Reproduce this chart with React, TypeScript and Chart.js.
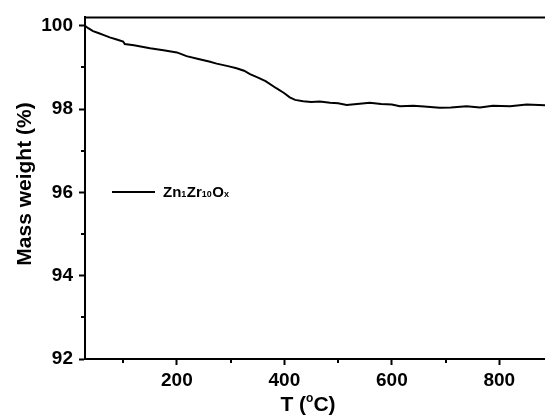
import React, { useEffect, useRef } from "react";
import { Chart, registerables } from "chart.js";

Chart.register(...registerables);

const temperatures = [29, 35, 44, 55, 63, 75, 88, 100, 103, 120, 150, 175, 200, 218, 240, 260, 274, 295, 311, 325, 336, 350, 365, 385, 400, 410, 420, 435, 450, 466, 485, 500, 516, 540, 559, 580, 600, 615, 640, 660, 689, 710, 739, 764, 788, 820, 851, 885];
const massWeight = [100.0, 99.94, 99.87, 99.82, 99.78, 99.72, 99.67, 99.62, 99.56, 99.53, 99.46, 99.41, 99.36, 99.27, 99.2, 99.14, 99.09, 99.03, 98.98, 98.92, 98.84, 98.76, 98.67, 98.5, 98.38, 98.28, 98.22, 98.19, 98.17, 98.18, 98.15, 98.14, 98.1, 98.13, 98.15, 98.12, 98.11, 98.07, 98.08, 98.06, 98.03, 98.04, 98.07, 98.04, 98.08, 98.07, 98.11, 98.09];

const xMajorTicks = [200, 400, 600, 800];
const xMinorTicks = [100, 300, 500, 700];
const yMajorTicks = [92, 94, 96, 98, 100];
const yMinorTicks = [93, 95, 97, 99];

const FONT = "'Liberation Sans', Arial, sans-serif";

const decorPlugin = {
  id: "decor",
  afterDraw(chart: any) {
    const ctx = chart.ctx;
    const { left, top, right, bottom } = chart.chartArea;
    const xs = chart.scales.x;
    const ys = chart.scales.y;
    ctx.save();
    ctx.strokeStyle = "#000";
    ctx.fillStyle = "#000";
    ctx.lineWidth = 2;
    // top frame
    ctx.beginPath();
    ctx.moveTo(left - 1, top);
    ctx.lineTo(right, top);
    ctx.stroke();
    // minor ticks
    xMinorTicks.forEach((v) => {
      const px = Math.round(xs.getPixelForValue(v));
      ctx.beginPath();
      ctx.moveTo(px, bottom);
      ctx.lineTo(px, bottom + 4);
      ctx.stroke();
    });
    yMinorTicks.forEach((v) => {
      const py = Math.round(ys.getPixelForValue(v));
      ctx.beginPath();
      ctx.moveTo(left, py);
      ctx.lineTo(left - 4, py);
      ctx.stroke();
    });
    // legend
    const ly = 192;
    ctx.beginPath();
    ctx.moveTo(112, ly);
    ctx.lineTo(155, ly);
    ctx.stroke();
    const parts = [
      { t: "Zn", sub: false },
      { t: "1", sub: true },
      { t: "Zr", sub: false },
      { t: "10", sub: true },
      { t: "O", sub: false },
      { t: "x", sub: true },
    ];
    let lx = 163;
    ctx.textBaseline = "alphabetic";
    ctx.textAlign = "left";
    parts.forEach((p) => {
      ctx.font = p.sub ? `bold 9px ${FONT}` : `bold 15px ${FONT}`;
      ctx.fillText(p.t, lx, ly + 5);
      lx += ctx.measureText(p.t).width + (p.sub ? 0.5 : 0);
    });
    // x title: T (°C) with superscript o
    const tParts = [
      { t: "T (", sup: false },
      { t: "o", sup: true },
      { t: "C)", sup: false },
    ];
    let total = 0;
    tParts.forEach((p) => {
      ctx.font = p.sup ? `bold 12px ${FONT}` : `bold 21px ${FONT}`;
      total += ctx.measureText(p.t).width;
    });
    let tx = 308 - total / 2;
    const tyBase = 411;
    tParts.forEach((p) => {
      ctx.font = p.sup ? `bold 12px ${FONT}` : `bold 21px ${FONT}`;
      ctx.fillText(p.t, tx, p.sup ? tyBase - 9 : tyBase);
      tx += ctx.measureText(p.t).width;
    });
    // y title
    ctx.save();
    ctx.translate(31, 184);
    ctx.rotate(-Math.PI / 2);
    ctx.font = `bold 21px ${FONT}`;
    ctx.textAlign = "center";
    ctx.textBaseline = "alphabetic";
    ctx.fillText("Mass weight (%)", 0, 0);
    ctx.restore();
    ctx.restore();
  },
};

export default function App() {
  const ref = useRef<HTMLCanvasElement | null>(null);
  useEffect(() => {
    if (!ref.current) return;
    const chart = new Chart(ref.current, {
      type: "line",
      data: {
        datasets: [
          {
            label: "Zn1Zr10Ox",
            data: temperatures.map((t, i) => ({ x: t, y: massWeight[i] })),
            borderColor: "#000",
            borderWidth: 2,
            pointRadius: 0,
            tension: 0,
            fill: false,
          },
        ],
      },
      options: {
        responsive: false,
        animation: false,
        layout: { padding: { top: 16, right: 0, left: 0, bottom: 0 } },
        plugins: { legend: { display: false }, tooltip: { enabled: false } },
        scales: {
          x: {
            type: "linear",
            min: 29,
            max: 885,
            afterBuildTicks: (s: any) => {
              s.ticks = xMajorTicks.map((v) => ({ value: v }));
            },
            afterFit: (s: any) => {
              s.height = 60;
            },
            ticks: {
              color: "#000",
              font: { family: FONT, weight: "bold", size: 19 },
              padding: 4,
              maxRotation: 0,
            },
            grid: {
              drawOnChartArea: false,
              drawTicks: true,
              tickLength: 6,
              tickWidth: 2,
              tickColor: "#000",
            },
            border: { color: "#000", width: 2 },
          },
          y: {
            type: "linear",
            min: 92,
            max: 100.2,
            afterBuildTicks: (s: any) => {
              s.ticks = yMajorTicks.map((v) => ({ value: v }));
            },
            afterFit: (s: any) => {
              s.width = 85;
            },
            ticks: {
              color: "#000",
              font: { family: FONT, weight: "bold", size: 19 },
              padding: 6,
            },
            grid: {
              drawOnChartArea: false,
              drawTicks: true,
              tickLength: 6,
              tickWidth: 2,
              tickColor: "#000",
            },
            border: { color: "#000", width: 2 },
          },
        },
      },
      plugins: [decorPlugin],
    });
    return () => chart.destroy();
  }, []);
  return (
    <div style={{ position: "fixed", left: 0, top: 0, width: 545, height: 419, background: "#fff" }}>
      <canvas ref={ref} width={545} height={419} style={{ display: "block" }} />
    </div>
  );
}
